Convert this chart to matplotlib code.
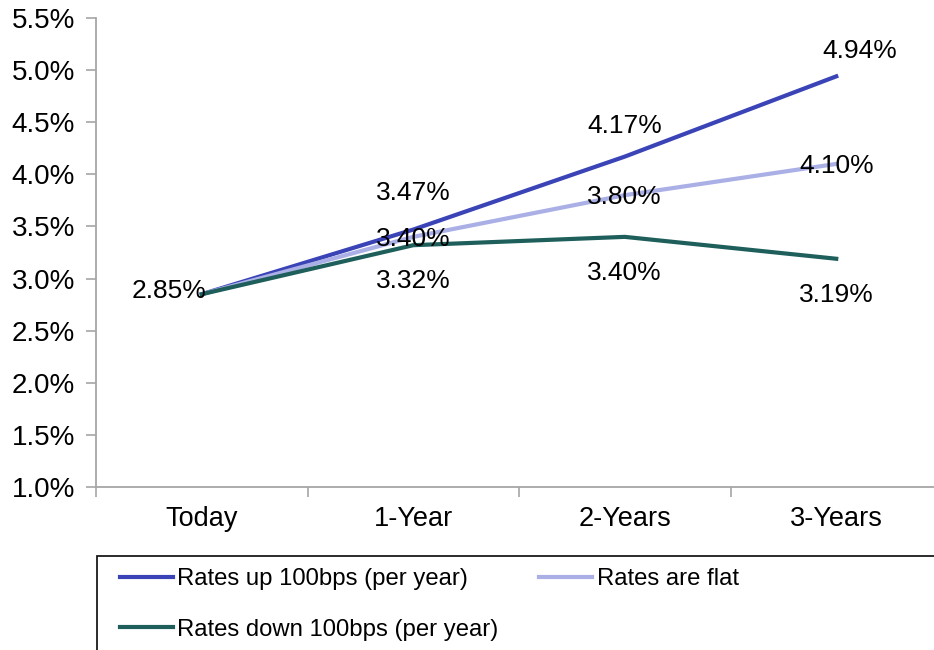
import matplotlib
matplotlib.use("Agg")
import matplotlib.pyplot as plt
from matplotlib.patches import Rectangle
from matplotlib.ticker import FuncFormatter, MultipleLocator, FixedLocator

plt.rcParams['font.family'] = ['Liberation Sans', 'DejaVu Sans']

periods = ["Today", "1-Year", "2-Years", "3-Years"]
rates_up = [2.85, 3.47, 4.17, 4.94]
rates_flat = [2.85, 3.40, 3.80, 4.10]
rates_down = [2.85, 3.32, 3.40, 3.19]

series_names = ["Rates up 100bps (per year)", "Rates are flat", "Rates down 100bps (per year)"]
colors = ["#3B44B6", "#AAB0E6", "#1E5F5C"]

W, H = 934, 650
fig = plt.figure(figsize=(W / 100, H / 100), dpi=100)
ax = fig.add_axes([96 / W, 1 - 487 / H, (942 - 96) / W, (487 - 18) / H])

x = list(range(len(periods)))
lines = []
for vals, name, c in zip([rates_up, rates_flat, rates_down], series_names, colors):
    ln, = ax.plot(x, vals, color=c, lw=3.0, solid_joinstyle='miter', label=name)
    lines.append(ln)

ax.set_xlim(-0.5, len(periods) - 0.5)
ax.set_ylim(1.0, 5.5)
ax.yaxis.set_major_locator(MultipleLocator(0.5))
ax.yaxis.set_major_formatter(FuncFormatter(lambda v, p: f"{v:.1f}%"))
ax.set_xticks(x)
ax.set_xticklabels(periods)
ax.xaxis.set_major_locator(FixedLocator(x))
ax.set_xticks([i + 0.5 for i in x[:-1]] + [-0.5], minor=True)
ax.tick_params(axis='x', which='major', length=0, pad=14, labelsize=19.5)
ax.tick_params(axis='x', which='minor', length=7, width=1.2, color='#A6A6A6', direction='out')
ax.tick_params(axis='y', length=7, width=1.2, color='#A6A6A6', pad=8, labelsize=20)

for s in ['top', 'right']:
    ax.spines[s].set_visible(False)
for s in ['left', 'bottom']:
    ax.spines[s].set_color('#A6A6A6')
    ax.spines[s].set_linewidth(1.3)

lbl = dict(fontsize=19, color='black', textcoords='offset points')

# Today: one shared label, placed left of the start point
ax.annotate(f"{rates_up[0]:.2f}%", (0, rates_up[0]), xytext=(3, 2), ha='right', va='center', **lbl)

up_offsets = [None, (0, 26), (0, 22), (17, 18)]
for i in range(1, len(periods)):
    ax.annotate(f"{rates_up[i]:.2f}%", (i, rates_up[i]), xytext=up_offsets[i], ha='center', va='center', **lbl)
    ax.annotate(f"{rates_flat[i]:.2f}%", (i, rates_flat[i]), xytext=(0, -1.5), ha='center', va='center', **lbl)
    ax.annotate(f"{rates_down[i]:.2f}%", (i, rates_down[i]), xytext=(0, -26), ha='center', va='center', **lbl)

# Legend box
fig.patches.append(Rectangle((97 / W, -0.05), 1.0, 1 - 556 / H + 0.05, transform=fig.transFigure,
                             fill=False, edgecolor='#1a1a1a', lw=1.3))
leg = fig.legend(handles=[lines[0], lines[2], lines[1]], loc='upper left',
                 bbox_to_anchor=(120 / W, 1 - 568 / H),
                 ncol=2, frameon=False, fontsize=17.2, handlelength=2.2, handletextpad=0.2,
                 columnspacing=1.7, labelspacing=1.2, borderpad=0, borderaxespad=0)

fig.savefig("out.png", dpi=100)
